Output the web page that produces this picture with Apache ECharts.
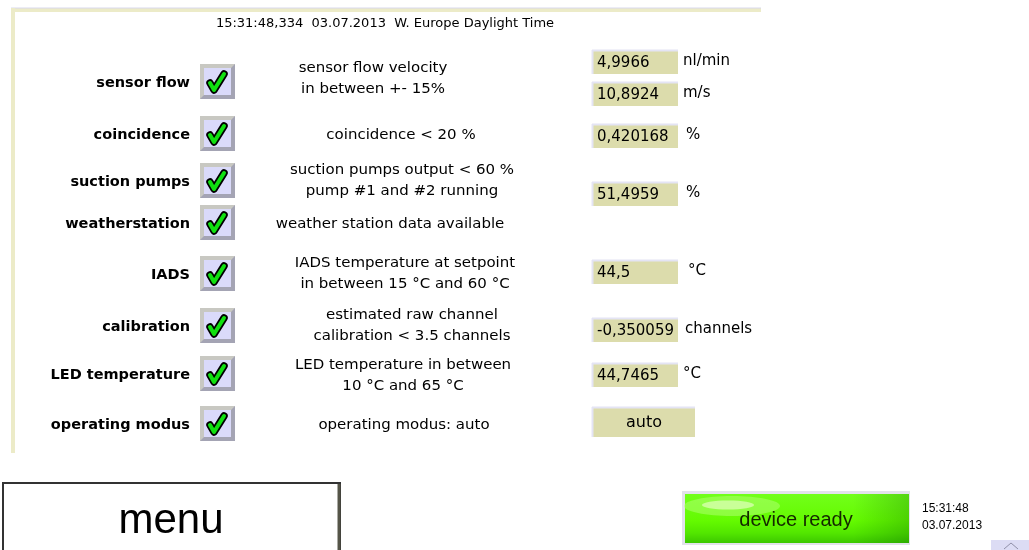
<!DOCTYPE html>
<html>
<head>
<meta charset="utf-8">
<script src="https://cdn.jsdelivr.net/npm/echarts@6/dist/echarts.min.js"></script>
<style>
  html, body { margin: 0; padding: 0; background: #fff; }
  #main { width: 1029px; height: 550px; }
</style>
</head>
<body>
<div id="main"></div>
<script type="text/javascript">
// status page data
var headerStamp = '15:31:48,334  03.07.2013  W. Europe Daylight Time';
var rowLabels = ['sensor flow', 'coincidence', 'suction pumps', 'weatherstation', 'IADS', 'calibration', 'LED temperature', 'operating modus'];
var rowChecked = [true, true, true, true, true, true, true, true];
var rowDescriptions = [
  ['sensor flow velocity', 'in between +- 15%'],
  ['coincidence < 20 %'],
  ['suction pumps output < 60 %', 'pump #1 and #2 running'],
  ['weather station data available'],
  ['IADS temperature at setpoint', 'in between 15 °C and 60 °C'],
  ['estimated raw channel', 'calibration < 3.5 channels'],
  ['LED temperature in between', '10 °C and 65 °C'],
  ['operating modus: auto']
];
var readingValues = [['4,9966', '10,8924'], ['0,420168'], ['51,4959'], [], ['44,5'], ['-0,350059'], ['44,7465'], ['auto']];
var readingUnits = [['nl/min', 'm/s'], ['%'], ['%'], [], ['°C'], ['channels'], ['°C'], ['']];
var menuText = 'menu';
var statusText = 'device ready';
var clockLines = ['15:31:48', '03.07.2013'];

// layout (pixels)
var rowY = [81, 133, 180, 222, 273, 325, 373, 423];
var descX = [373, 401, 402, 390, 405, 412, 403, 404];
var descY = [79, 135, 181, 224, 274, 326, 376, 425];
var boxY = [[62, 94], [136], [194], [], [272], [330], [375], [422]];
var unitX = [[683, 683], [686], [686], [], [688], [685], [683], [0]];

var myChart = echarts.init(document.getElementById('main'));
var g = [];

// panel frame
g.push({ type: 'rect', shape: { x: 11, y: 8, width: 750, height: 4 }, style: { fill: '#ecebc8' } });
g.push({ type: 'line', shape: { x1: 11, y1: 8, x2: 761, y2: 8 }, style: { stroke: '#d8d8ec', lineWidth: 1 } });
g.push({ type: 'rect', shape: { x: 11, y: 8, width: 4, height: 445 }, style: { fill: '#ecebc8' } });
g.push({ type: 'text', style: { text: headerStamp, x: 385, y: 24, align: 'center', verticalAlign: 'middle', font: '13px "DejaVu Sans"', fill: '#000' } });

function checkBox(cy, on) {
  var x = 200, y = cy - 17, s = 35;
  var els = [
    { type: 'rect', shape: { x: x, y: y, width: s, height: s }, style: { fill: '#a4a4b4' } },
    { type: 'polygon', shape: { points: [[x, y], [x + s, y], [x + s - 4, y + 4], [x + 4, y + 4], [x + 4, y + s - 4], [x, y + s]] }, style: { fill: '#c8c8c2' } },
    { type: 'rect', shape: { x: x + 4, y: y + 4, width: s - 8, height: s - 8 }, style: { fill: '#dadafa' } }
  ];
  if (on) {
    var pts = [[x + 10, y + 19], [x + 14, y + 26], [x + 24, y + 10]];
    els.push({ type: 'polyline', shape: { points: pts }, style: { stroke: '#000', lineWidth: 7.5, lineJoin: 'round', lineCap: 'round', fill: null } });
    els.push({ type: 'polyline', shape: { points: pts }, style: { stroke: '#10e010', lineWidth: 4, lineJoin: 'round', lineCap: 'round', fill: null } });
  }
  return els;
}

function valueBox(cy, w, h) {
  var x = 592, y = cy - h / 2;
  return [
    { type: 'rect', shape: { x: x, y: y, width: w, height: h }, style: { fill: '#dcdcac' } },
    { type: 'line', shape: { x1: x, y1: y + 0.5, x2: x + w, y2: y + 0.5 }, style: { stroke: '#e4e4f4', lineWidth: 2 } },
    { type: 'line', shape: { x1: x + 0.5, y1: y, x2: x + 0.5, y2: y + h }, style: { stroke: '#e4e4f4', lineWidth: 2 } }
  ];
}

rowLabels.forEach(function (label, i) {
  g.push({ type: 'text', style: { text: label, x: 190, y: rowY[i] + 2, align: 'right', verticalAlign: 'middle', font: 'bold 14.5px "DejaVu Sans"', fill: '#000' } });
  g = g.concat(checkBox(rowY[i], rowChecked[i]));
  var lines = rowDescriptions[i];
  lines.forEach(function (t, j) {
    var yy = descY[i] + (j - (lines.length - 1) / 2) * 21;
    g.push({ type: 'text', x: descX[i], y: yy, scaleX: 1.07,
      style: { text: t, x: 0, y: 0, align: 'center', verticalAlign: 'middle', font: '14px "DejaVu Sans"', fill: '#000' } });
  });
  readingValues[i].forEach(function (v, j) {
    var isMode = readingUnits[i][j] === '';
    if (isMode) {
      g = g.concat(valueBox(boxY[i][j], 103, 30));
      g.push({ type: 'text', style: { text: v, x: 644, y: boxY[i][j] + 1, align: 'center', verticalAlign: 'middle', font: '16px "DejaVu Sans"', fill: '#000' } });
    } else {
      g = g.concat(valueBox(boxY[i][j], 86, 24));
      g.push({ type: 'text', style: { text: v, x: 597, y: boxY[i][j] + 1, align: 'left', verticalAlign: 'middle', font: '15px "DejaVu Sans"', fill: '#000' } });
      g.push({ type: 'text', style: { text: readingUnits[i][j], x: unitX[i][j], y: boxY[i][j] - 1, align: 'left', verticalAlign: 'middle', font: '15px "DejaVu Sans"', fill: '#000' } });
    }
  });
});

// menu button
g.push({ type: 'rect', shape: { x: 3, y: 483, width: 337, height: 80 }, style: { fill: '#fff', stroke: '#333', lineWidth: 2 } });
g.push({ type: 'line', shape: { x1: 339, y1: 484, x2: 339, y2: 550 }, style: { stroke: '#555548', lineWidth: 3 } });
g.push({ type: 'text', style: { text: menuText, x: 171, y: 521, align: 'center', verticalAlign: 'middle', font: '42px "Liberation Sans"', fill: '#000' } });

// status button
g.push({ type: 'rect', shape: { x: 682, y: 491, width: 228, height: 54 }, style: { fill: '#e2e2ea' } });
g.push({ type: 'rect', shape: { x: 685, y: 494, width: 224, height: 49 }, style: {
  fill: new echarts.graphic.LinearGradient(0, 0, 0, 1, [
    { offset: 0, color: '#72ff1a' }, { offset: 0.55, color: '#64fa00' }, { offset: 0.8, color: '#52e600' }, { offset: 1, color: '#3cc800' }
  ]) } });
g.push({ type: 'rect', shape: { x: 685, y: 494, width: 224, height: 49 }, style: {
  fill: new echarts.graphic.LinearGradient(0, 0, 1, 0, [
    { offset: 0, color: 'rgba(0,90,0,0)' }, { offset: 0.75, color: 'rgba(0,90,0,0)' }, { offset: 1, color: 'rgba(0,90,0,0.25)' }
  ]) } });
g.push({ type: 'ellipse', shape: { cx: 732, cy: 506, rx: 48, ry: 10 }, style: { fill: 'rgba(180,255,120,0.5)' } });
g.push({ type: 'ellipse', shape: { cx: 728, cy: 505, rx: 26, ry: 4.5 }, style: { fill: 'rgba(220,255,180,0.75)' } });
g.push({ type: 'text', style: { text: statusText, x: 796, y: 520, align: 'center', verticalAlign: 'middle', font: '20px "Liberation Sans"', fill: '#142800' } });

clockLines.forEach(function (t, j) {
  g.push({ type: 'text', style: { text: t, x: 922, y: 509 + j * 17, align: 'left', verticalAlign: 'middle', font: '12px "Liberation Sans"', fill: '#000' } });
});

// scroll tab
g.push({ type: 'rect', shape: { x: 991, y: 540, width: 38, height: 10 }, style: { fill: '#dcdcf4' } });
g.push({ type: 'polyline', shape: { points: [[1004, 549], [1011, 543], [1018, 549]] }, style: { stroke: '#9090a8', lineWidth: 1, fill: null } });

myChart.setOption({ animation: false, graphic: g });
</script>
</body>
</html>
